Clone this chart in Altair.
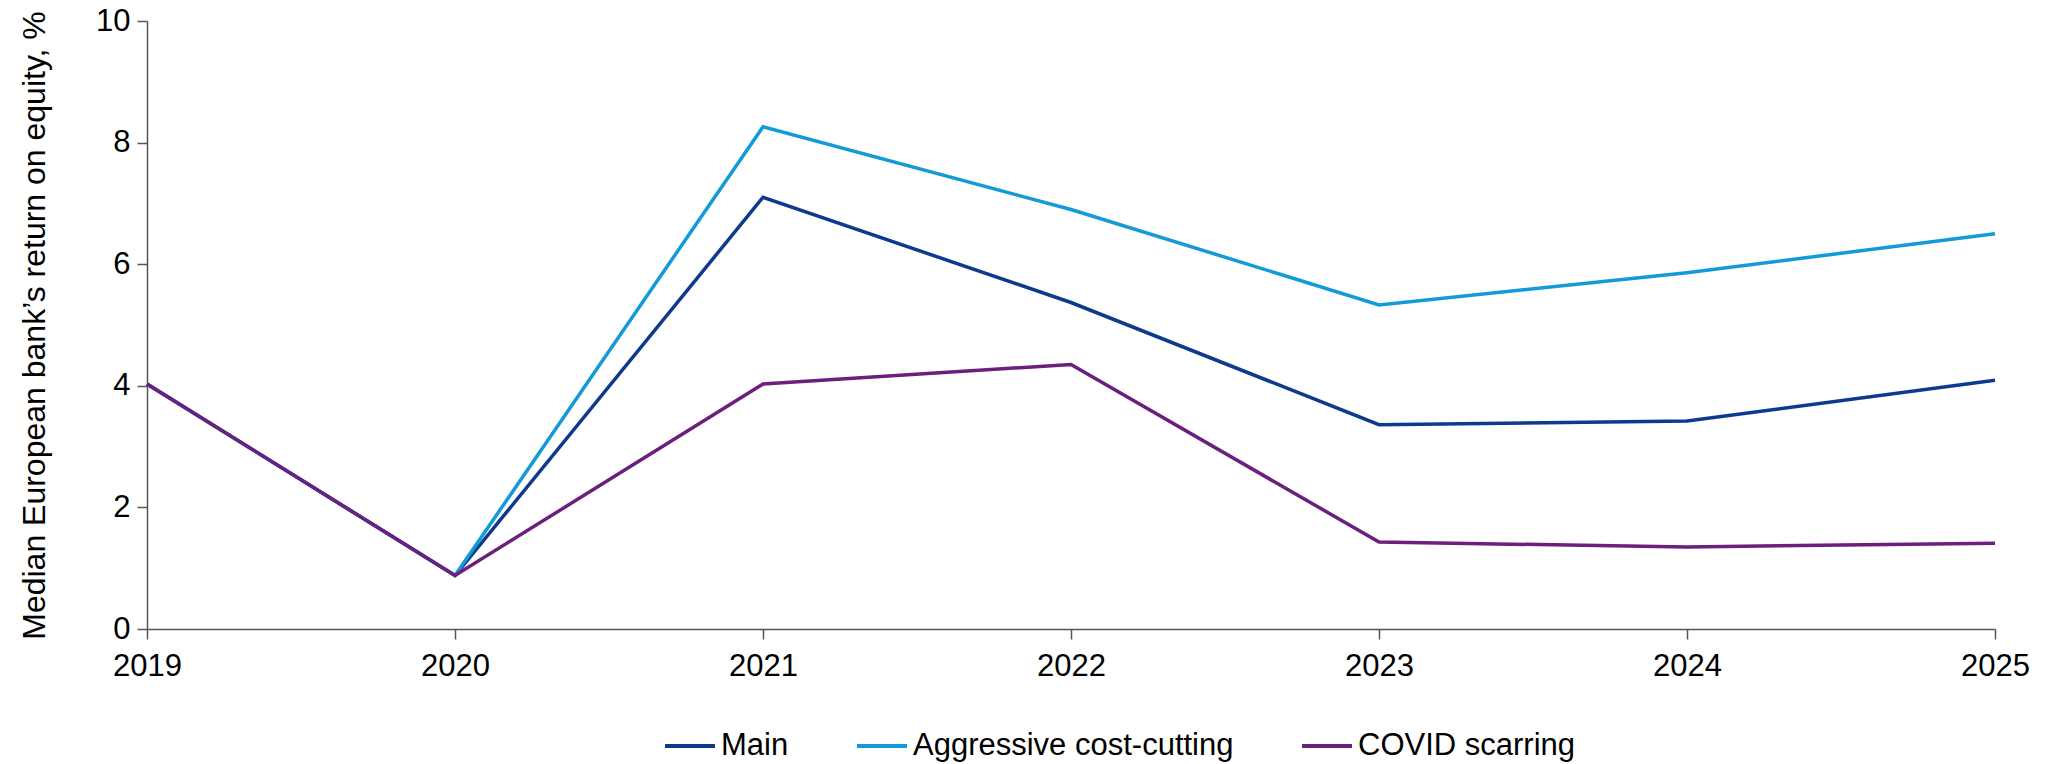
import altair as alt
import pandas as pd

years = [2019, 2020, 2021, 2022, 2023, 2024, 2025]
main = [4.03, 0.88, 7.10, 5.37, 3.36, 3.42, 4.09]
aggressive = [4.03, 0.88, 8.26, 6.90, 5.33, 5.86, 6.50]
covid = [4.03, 0.88, 4.03, 4.35, 1.43, 1.35, 1.41]

series_names = ["Main", "Aggressive cost-cutting", "COVID scarring"]
series_colors = ["#0e3a8e", "#139ad8", "#6c1f7c"]

rows = []
for name, vals in zip(series_names, [main, aggressive, covid]):
    for y, v in zip(years, vals):
        rows.append({"year": y, "value": v, "series": name})
df = pd.DataFrame(rows)

FONT = "Liberation Sans"

chart = alt.Chart(df).mark_line(strokeWidth=3.5).encode(
    x=alt.X("year:Q",
            scale=alt.Scale(domain=[2019, 2025], nice=False, zero=False),
            axis=alt.Axis(values=years, format="d", title=None, grid=False,
                          labelFontSize=31, labelFont=FONT, labelColor="#000000",
                          labelPadding=12, tickSize=10, tickColor="#555555",
                          domainColor="#555555", domainWidth=1.5, tickWidth=1.5,
                          labelFlush=False)),
    y=alt.Y("value:Q",
            scale=alt.Scale(domain=[0, 10], nice=False),
            axis=alt.Axis(values=[0, 2, 4, 6, 8, 10], title="Median European bank\u2019s return on equity, %",
                          grid=False, labelFontSize=31, labelFont=FONT, labelColor="#000000",
                          labelPadding=7, tickSize=10, tickColor="#555555",
                          domainColor="#555555", domainWidth=1.5, tickWidth=1.5,
                          titleFont=FONT, titleFontSize=32, titleFontWeight="normal",
                          titleColor="#000000", titlePadding=44, labelFlush=False)),
    color=alt.Color("series:N",
                    scale=alt.Scale(domain=series_names, range=series_colors),
                    sort=series_names,
                    legend=alt.Legend(title=None, orient="none", direction="horizontal",
                                      legendX=663 - 147, legendY=746 - 21 - 27,
                                      symbolType="stroke", symbolSize=2500, symbolStrokeWidth=4,
                                      labelFont=FONT, labelFontSize=31, labelLimit=600,
                                      labelColor="#000000", labelOffset=4, columnPadding=60)),
    order=alt.Order("series_order:Q"),
).transform_calculate(
    series_order="indexof(['Main','Aggressive cost-cutting','COVID scarring'], datum.series)"
).properties(
    width=1848, height=608,
    background="white",
    autosize=alt.AutoSizeParams(type="none"),
    padding={"left": 147, "top": 21, "right": 51, "bottom": 135},
).configure_view(stroke=None)

chart.save("out.html", embed_options={"renderer": "svg", "actions": False})
